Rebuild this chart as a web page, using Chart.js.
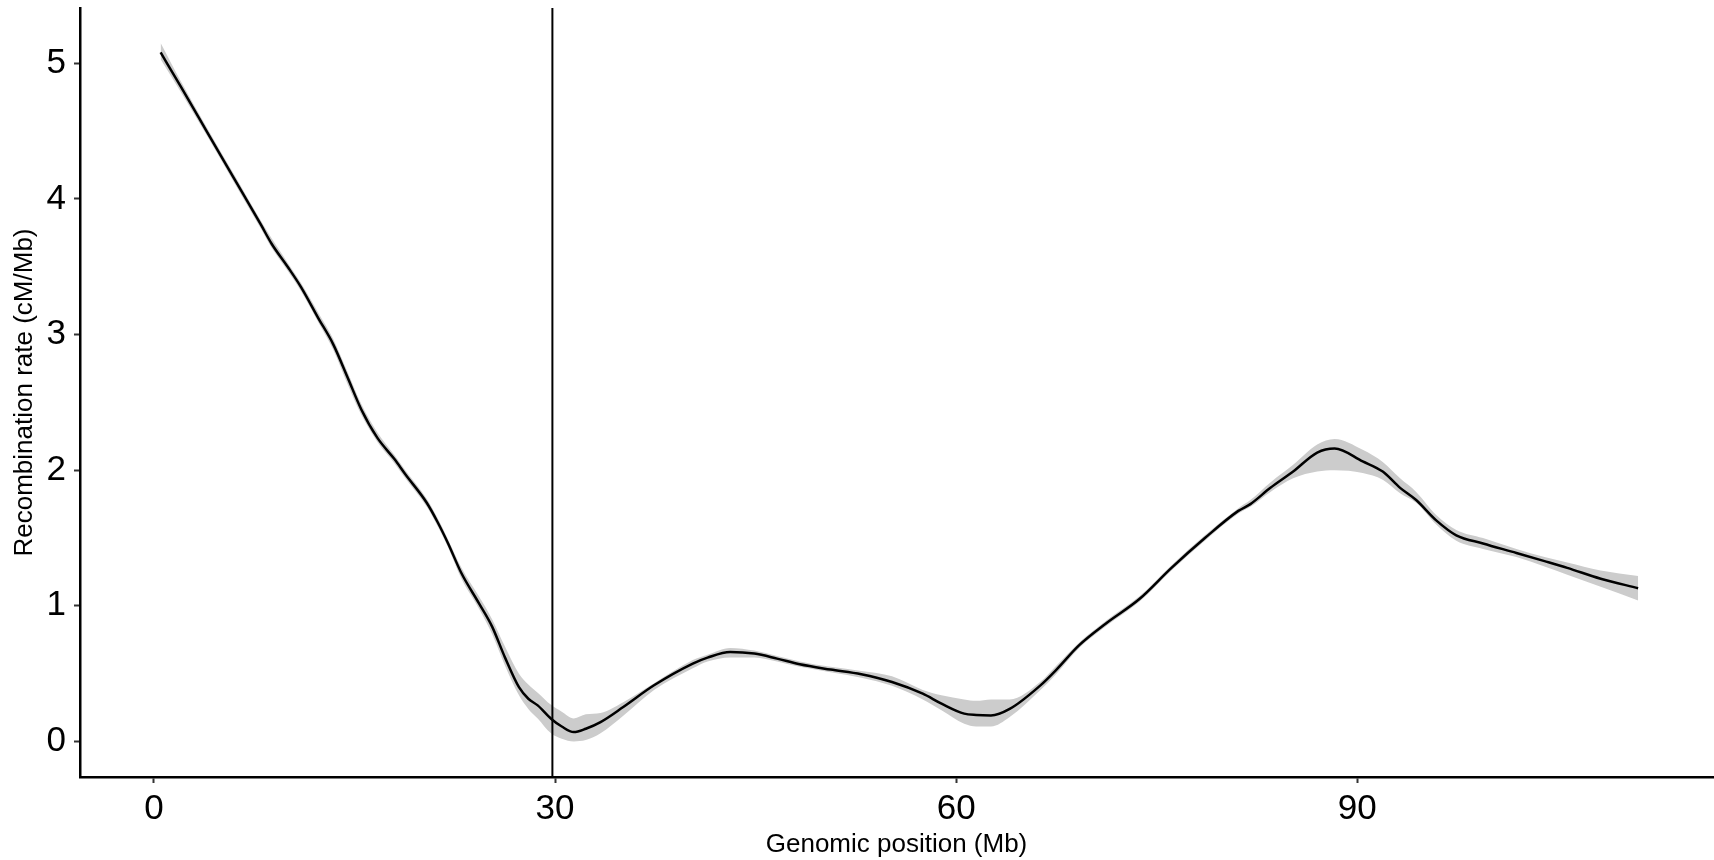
<!DOCTYPE html>
<html>
<head>
<meta charset="utf-8">
<script src="https://cdn.jsdelivr.net/npm/chart.js@4/dist/chart.umd.min.js"></script>
<style>
  html, body { margin: 0; padding: 0; background: #ffffff; }
  #wrap { width: 1714px; height: 860px; }
</style>
</head>
<body>
<div id="wrap"><canvas id="c" width="1714" height="860"></canvas></div>
<script>
// Genomic position (Mb)
const positions = [0.5, 2, 4, 6, 8, 8.8, 10, 11, 12.3, 13.4, 14.5, 15.5, 16.7, 18, 18.8, 20.4, 21.2, 22, 23, 24.3,
  25.3, 26.25, 27.3, 28.0, 28.7, 29.7, 30.5, 31.4, 32.3, 33.4, 35.1, 37.4, 40.3, 41.4, 43.1, 44.9, 46.6, 48.3, 50.6, 52.9,
  55.2, 57.5, 58.9, 60.6, 61.5, 62.6, 64.0, 66.3, 67.5, 69.2, 71.2, 73.7, 76.1, 78.6, 81.1, 82.0, 83.5, 85.2, 87.0, 88.3,
  90.4, 91.9, 93.2, 94.4, 95.9, 97.4, 99.4, 101.9, 104, 105.7, 108.2, 111.0];
// Recombination rate (cM/Mb), smoothed estimate
const rate = [5.08, 4.83, 4.49, 4.15, 3.81, 3.67, 3.50, 3.35, 3.12, 2.93, 2.68, 2.45, 2.24, 2.08, 1.97, 1.76, 1.62, 1.46, 1.24, 1.02,
  0.845, 0.62, 0.40, 0.315, 0.266, 0.168, 0.11, 0.069, 0.094, 0.143, 0.254, 0.414, 0.574, 0.618, 0.66, 0.648, 0.611, 0.569, 0.53, 0.495,
  0.438, 0.352, 0.279, 0.205, 0.195, 0.192, 0.24, 0.414, 0.53, 0.71, 0.87, 1.05, 1.28, 1.50, 1.70, 1.75, 1.87, 1.99, 2.13, 2.16,
  2.065, 1.99, 1.87, 1.78, 1.63, 1.52, 1.46, 1.39, 1.33, 1.28, 1.20, 1.13];
// Confidence band
const lowerBand = [5.03, 4.79, 4.46, 4.12, 3.78, 3.64, 3.47, 3.32, 3.09, 2.89, 2.63, 2.41, 2.21, 2.05, 1.94, 1.73, 1.59, 1.43, 1.20, 0.98,
  0.79, 0.56, 0.34, 0.24, 0.17, 0.06, 0.02, 0.0, 0.01, 0.06, 0.19, 0.38, 0.54, 0.59, 0.62, 0.62, 0.59, 0.55, 0.51, 0.47,
  0.41, 0.31, 0.23, 0.13, 0.11, 0.11, 0.18, 0.38, 0.50, 0.69, 0.85, 1.03, 1.26, 1.48, 1.68, 1.73, 1.84, 1.94, 1.99, 2.00,
  1.98, 1.93, 1.83, 1.76, 1.60, 1.48, 1.42, 1.36, 1.29, 1.23, 1.14, 1.04];
const upperBand = [5.15, 4.87, 4.52, 4.18, 3.84, 3.71, 3.53, 3.38, 3.16, 2.97, 2.72, 2.49, 2.28, 2.11, 2.00, 1.79, 1.65, 1.49, 1.28, 1.07,
  0.90, 0.70, 0.50, 0.42, 0.36, 0.27, 0.22, 0.17, 0.20, 0.21, 0.29, 0.43, 0.60, 0.64, 0.69, 0.67, 0.63, 0.59, 0.55, 0.52,
  0.48, 0.38, 0.34, 0.31, 0.30, 0.31, 0.31, 0.44, 0.56, 0.73, 0.89, 1.07, 1.30, 1.52, 1.72, 1.78, 1.91, 2.04, 2.19, 2.23,
  2.15, 2.06, 1.94, 1.84, 1.67, 1.56, 1.50, 1.42, 1.36, 1.32, 1.26, 1.22];
// Vertical marker position (Mb)
const markerPosition = 29.8;
const xTicks = [0, 30, 60, 90];
const yTicks = [0, 1, 2, 3, 4, 5];

const FONT = '"Liberation Sans", Arial, Helvetica, sans-serif';
const toPts = (ys) => positions.map((x, i) => ({ x: x, y: ys[i] }));

new Chart(document.getElementById('c'), {
  type: 'line',
  data: {
    datasets: [
      { data: toPts(lowerBand), order: 3, borderWidth: 0, pointRadius: 0, fill: false, cubicInterpolationMode: 'monotone', borderColor: 'rgba(0,0,0,0)' },
      { data: toPts(upperBand), order: 2, borderWidth: 0, pointRadius: 0, fill: '-1', backgroundColor: '#cccccc', cubicInterpolationMode: 'monotone', borderColor: 'rgba(0,0,0,0)' },
      { data: toPts(rate), order: 1, borderWidth: 2.5, borderColor: '#000000', pointRadius: 0, fill: false, cubicInterpolationMode: 'monotone' },
      { data: [{ x: markerPosition, y: -0.262 }, { x: markerPosition, y: 5.408 }], order: 0, borderWidth: 2, borderColor: '#000000', pointRadius: 0, fill: false, tension: 0 }
    ]
  },
  options: {
    responsive: false,
    animation: false,
    events: [],
    layout: { padding: { top: 8, right: 1, left: 0, bottom: 0 } },
    plugins: { legend: { display: false }, tooltip: { enabled: false } },
    scales: {
      x: {
        type: 'linear',
        min: -5.53,
        max: 116.6,
        afterBuildTicks: (s) => { s.ticks = xTicks.map(v => ({ value: v })); },
        afterFit: (s) => { s.height = 83; s.paddingLeft = 0; s.paddingRight = 0; },
        grid: { drawOnChartArea: false, tickLength: 6, tickColor: '#333333', tickWidth: 2 },
        border: { display: true, color: '#000000', width: 2.5 },
        ticks: { color: '#000000', font: { family: FONT, size: 35 }, padding: 5, maxRotation: 0 },
        title: { display: true, text: 'Genomic position (Mb)', color: '#000000', font: { family: FONT, size: 26 }, padding: { top: 0, bottom: 0 } }
      },
      y: {
        type: 'linear',
        min: -0.262,
        max: 5.408,
        afterBuildTicks: (s) => { s.ticks = yTicks.map(v => ({ value: v })); },
        afterFit: (s) => { s.width = 80; s.paddingTop = 0; s.paddingBottom = 0; },
        grid: { drawOnChartArea: false, tickLength: 6, tickColor: '#333333', tickWidth: 2 },
        border: { display: true, color: '#000000', width: 2.5 },
        ticks: { color: '#000000', font: { family: FONT, size: 35 }, padding: 8 },
        title: { display: true, text: 'Recombination rate (cM/Mb)', color: '#000000', font: { family: FONT, size: 26 }, padding: { top: 9, bottom: 0 } }
      }
    }
  }
});
</script>
</body>
</html>
